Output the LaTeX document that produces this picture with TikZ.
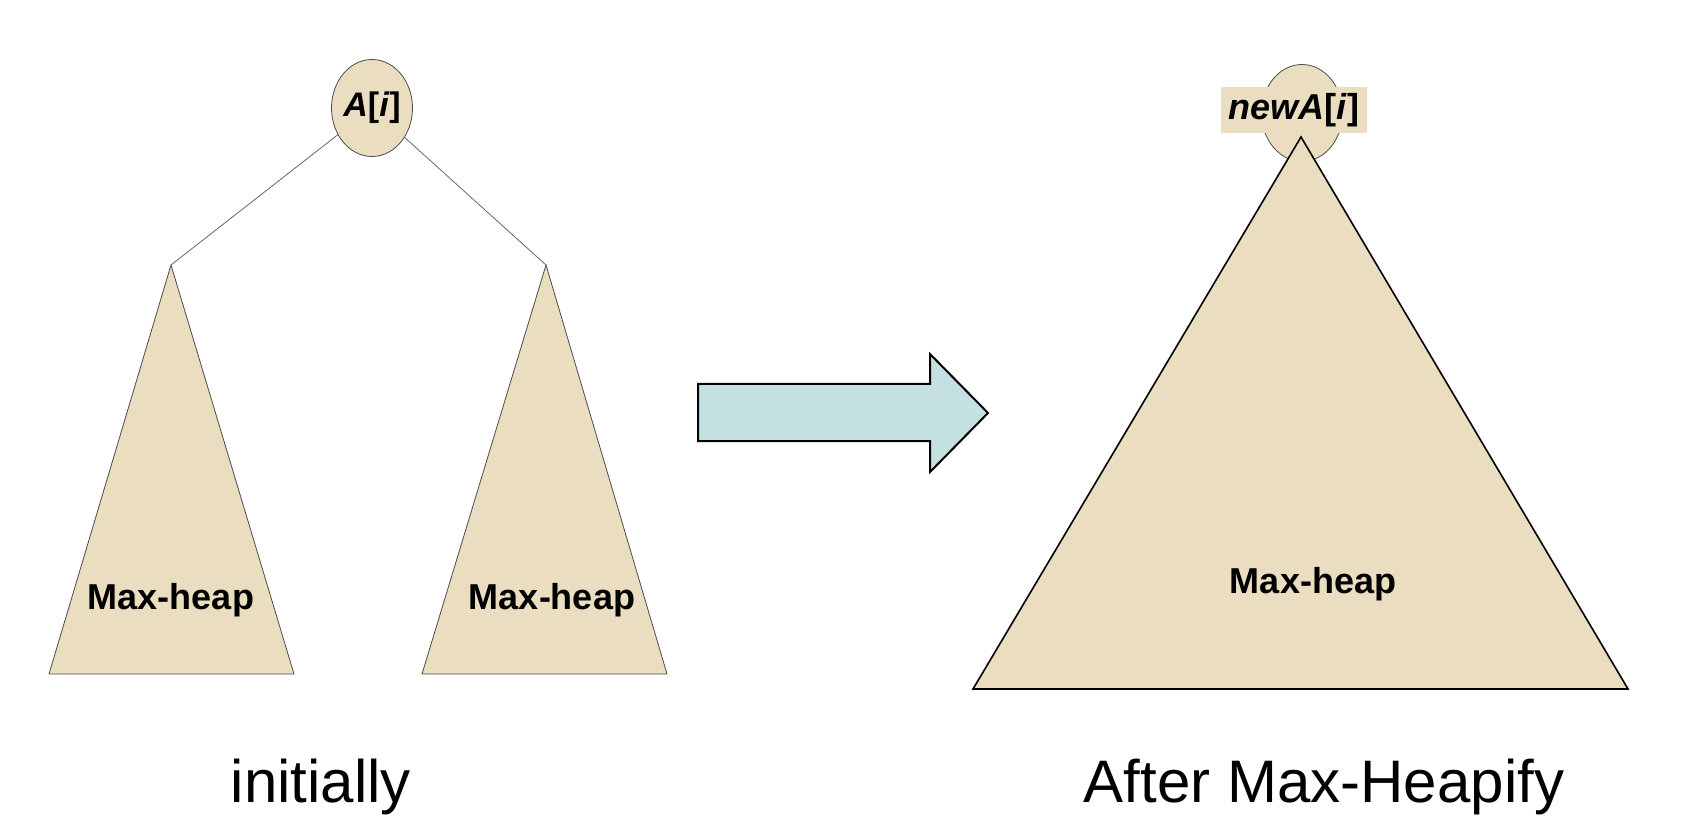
\documentclass[tikz,border=0pt]{standalone}
\usepackage{fontspec}
\setmainfont{Liberation Sans}
\usepackage{tikz}
\usetikzlibrary{positioning, shapes.geometric}

\definecolor{heapfill}{RGB}{234,221,192}
\definecolor{arrowfill}{RGB}{196,224,225}

\begin{document}
\begin{tikzpicture}[x=0.5pt, y=-0.5pt,
                rootnode/.style={draw=black!70, thin, ellipse, fill=heapfill, minimum width=40.5pt, minimum height=48.5pt, inner sep=0pt, font=\fontsize{17}{17}\selectfont\bfseries},
                heap/.style={draw=black!70, line width=0.4pt, fill=heapfill},
                bigheap/.style={draw=black, line width=0.8pt, fill=heapfill},
                heaplabel/.style={font=\fontsize{18}{18}\selectfont\bfseries},
                edge/.style={draw=black!60, line width=0.4pt},
                caption/.style={font=\fontsize{30}{30}\selectfont}
            ]
            \useasboundingbox (0,0) rectangle (1696,828);

            % initially
            \node[rootnode] (Ai) at (372,108) {\textit{A}[\textit{i}]};
            \coordinate (Ltop) at (171,265);
            \coordinate (Rtop) at (546,265);
            \draw[heap] (Ltop) -- (49,674) -- (294,674) -- cycle;
            \draw[heap] (Rtop) -- (422,674) -- (667,674) -- cycle;
            \draw[edge] (Ai) -- (Ltop);
            \draw[edge] (Ai) -- (Rtop);
            \node[heaplabel] (Lheap) at (171,600) {Max-heap};
            \node[heaplabel] (Rheap) at (552,600) {Max-heap};

            % Pfeil
            \draw[fill=arrowfill, line width=1pt] (698,384) -- (930,384) -- (930,354) -- (988,413)
                -- (930,472) -- (930,441) -- (698,441) -- cycle;

            % after
            \node[rootnode] (newroot) at (1302,113) {};
            \draw[bigheap] (1301,137) -- (973,689) -- (1628,689) -- cycle;
            \node[heaplabel, fill=heapfill, inner xsep=4pt, minimum height=22pt] (newAi) at (1294,110) {\textit{newA}[\textit{i}]};
            \node[heaplabel] (Bheap) at (1313,584) {Max-heap};

            % Beschriftung
            \node[caption] (init) at (321,787) {initially};
            \node[caption] (after) at (1324,787) {After Max-Heapify};

        \end{tikzpicture}
\end{document}
